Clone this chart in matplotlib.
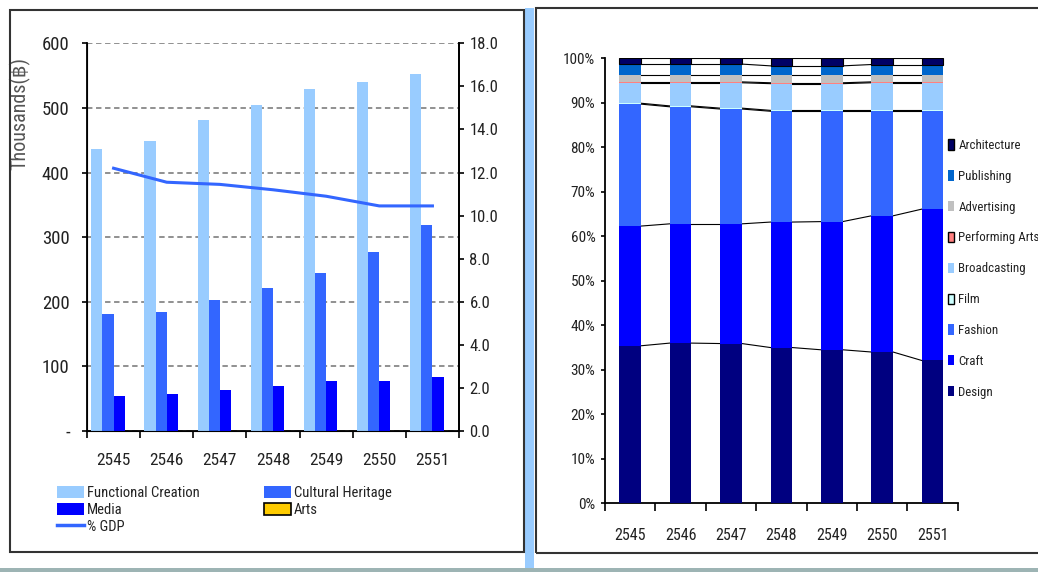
import matplotlib
matplotlib.use('Agg')
import matplotlib.pyplot as plt
from matplotlib.patches import Rectangle, Patch
from matplotlib.lines import Line2D
import numpy as np

'''
Creative economy: value by group (left) and sub-sector shares (right)
'''

years = ['2545', '2546', '2547', '2548', '2549', '2550', '2551']

# left chart, thousands of baht
functional_creation = [436, 449, 481, 504, 530, 540, 553]
cultural_heritage = [181, 184, 203, 222, 245, 277, 319]
media = [54, 58, 64, 70, 77, 77, 83]
arts = [0, 0, 0, 0, 0, 0, 0]
gdp_share = [12.2, 11.55, 11.45, 11.2, 10.9, 10.45, 10.45]

left_ticks = [0, 100, 200, 300, 400, 500, 600]
left_tick_labels = ['-', '100', '200', '300', '400', '500', '600']
right_ticks = [0, 2, 4, 6, 8, 10, 12, 14, 16, 18]

# right chart, % share (bottom to top)
sectors = ['Design', 'Craft', 'Fashion', 'Film', 'Broadcasting',
           'Performing Arts', 'Advertising', 'Publishing', 'Architecture']
design = [35.4, 36.0, 35.9, 35.0, 34.5, 34.0, 32.1]
craft = [26.9, 26.8, 26.9, 28.2, 28.8, 30.6, 34.0]
fashion = [27.4, 26.3, 25.8, 24.9, 24.8, 23.5, 22.0]
film = [0.2, 0.2, 0.2, 0.2, 0.2, 0.2, 0.2]
broadcasting = [4.6, 5.2, 5.7, 6.0, 6.0, 6.2, 6.2]
performing_arts = [0.2, 0.2, 0.2, 0.2, 0.2, 0.2, 0.2]
advertising = [1.6, 1.6, 1.6, 1.8, 1.8, 1.6, 1.6]
publishing = [2.4, 2.4, 2.4, 2.0, 2.0, 2.3, 2.3]
architecture = [1.3, 1.3, 1.3, 1.7, 1.7, 1.4, 1.4]

sector_colors = ['#000080', '#0000FF', '#3366FF', '#CCFFFF', '#99CCFF',
                 '#FF8080', '#C0C0C0', '#0066CC', '#000066']
sector_edges = [None, None, None, 'black', None, 'black', None, None, 'black']

# Arial Narrow look-alike
plt.rcParams['font.family'] = ['Roboto Condensed', 'DejaVu Sans']
TXT = '#222222'

W, H = 1038, 572
fig = plt.figure(figsize=(W / 100, H / 100), dpi=100)


def fx(px):
    return px / W


def fy(py):
    return 1 - py / H


# background decoration: panel frames, blue divider, bottom strip
fig.patches.append(Rectangle((fx(525), 0), fx(9), fy(8), transform=fig.transFigure,
                             facecolor='#99CCFF', edgecolor='none', zorder=0))
fig.patches.append(Rectangle((0, 0), 1, 4 / H, transform=fig.transFigure,
                             facecolor='#9DB4B4', edgecolor='none', zorder=0))
fig.patches.append(Rectangle((fx(10), fy(552)), fx(514), (552 - 10) / H,
                             transform=fig.transFigure, facecolor='none',
                             edgecolor='#333333', linewidth=1.5, zorder=1))
fig.patches.append(Rectangle((fx(536), fy(553)), fx(510), (553 - 8) / H,
                             transform=fig.transFigure, facecolor='none',
                             edgecolor='#333333', linewidth=1.5, zorder=1))

# ---------------- left chart ----------------
x = np.arange(len(years))
ax1 = fig.add_axes([fx(87), fy(431), fx(459 - 87), (431 - 43.3) / H])
bw = 0.21
ax1.bar(x - 1.5 * bw, functional_creation, bw, color='#99CCFF', zorder=3)
ax1.bar(x - 0.5 * bw, cultural_heritage, bw, color='#3366FF', zorder=3)
ax1.bar(x + 0.5 * bw, media, bw, color='#0000FF', zorder=3)
ax1.bar(x + 1.5 * bw, arts, bw, color='#FFCC00', edgecolor='black', linewidth=0, zorder=3)
ax1.set_xlim(-0.5, len(years) - 0.5)
ax1.set_ylim(0, 600)
ax1.set_yticks(left_ticks)
ax1.set_yticklabels(left_tick_labels)
ax1.yaxis.grid(True, linestyle=(0, (3, 2)), color='#888888', linewidth=1.3, zorder=0)
ax1.set_axisbelow(True)
ax1.set_xticks(np.arange(len(years) + 1) - 0.5)
ax1.set_xticklabels([])
ax1.set_xticks(x, minor=True)
ax1.set_xticklabels(years, minor=True)
ax1.tick_params(axis='x', which='major', length=5, width=1.2, direction='out')
ax1.tick_params(axis='x', which='minor', length=0, pad=16, labelsize=12.5, labelcolor=TXT)
ax1.tick_params(axis='y', length=3.5, width=1.2, pad=9, labelsize=13.5, labelcolor=TXT)
ax1.spines['top'].set_visible(False)
for s in ['left', 'bottom', 'right']:
    ax1.spines[s].set_linewidth(1.3)
ax1.set_ylabel('Thousands(฿)', fontsize=14.5, color='#555555')
ax1.yaxis.set_label_coords(-0.152, 0.818)

ax2 = ax1.twinx()
ax2.plot(x, gdp_share, color='#3366FF', linewidth=2.2, zorder=4)
ax2.set_ylim(0, 18)
ax2.set_yticks(right_ticks)
ax2.set_yticklabels([f'{t:.1f}' for t in right_ticks])
ax2.tick_params(axis='y', length=3.5, width=1.2, pad=4, labelsize=12, labelcolor=TXT)
ax2.spines['top'].set_visible(False)
ax2.spines['right'].set_linewidth(1.3)

left_handles = [
    Patch(facecolor='#99CCFF', edgecolor='none'),
    Patch(facecolor='#0000FF', edgecolor='none'),
    Line2D([0], [0], color='#3366FF', linewidth=2.5),
    Patch(facecolor='#3366FF', edgecolor='none'),
    Patch(facecolor='#FFCC00', edgecolor='black', linewidth=1.2),
]
left_labels = ['Functional Creation', 'Media', '% GDP', 'Cultural Heritage', 'Arts']
fig.legend(left_handles, left_labels, loc='upper left', ncol=2,
           bbox_to_anchor=(fx(57), fy(486)), frameon=False, borderpad=0,
           borderaxespad=0, fontsize=10.5, handlelength=1.85, handleheight=0.85,
           handletextpad=0.2, labelspacing=0.2, columnspacing=4.4,
           labelcolor=TXT)

# ---------------- right chart ----------------
ax3 = fig.add_axes([fx(605), fy(503.3), fx(957.7 - 605), (503.3 - 58.3) / H])
shares = [design, craft, fashion, film, broadcasting, performing_arts,
          advertising, publishing, architecture]
bw2 = 0.43
bottom = np.zeros(len(years))
tops = []
for vals, col in zip(shares, sector_colors):
    vals = np.array(vals)
    ax3.bar(x, vals, bw2, bottom=bottom, color=col,
            edgecolor='black' if col == '#000066' else 'none',
            linewidth=0.8, zorder=3)
    bottom = bottom + vals
    tops.append(bottom.copy())

# Excel-style series lines between columns
for t in tops:
    for i in range(len(years) - 1):
        ax3.plot([x[i] + bw2 / 2, x[i + 1] - bw2 / 2], [t[i], t[i + 1]],
                 color='black', linewidth=0.8, zorder=2)

ax3.set_xlim(-0.5, len(years) - 0.5)
ax3.set_ylim(0, 100)
ax3.set_yticks(np.arange(0, 101, 10))
ax3.set_yticklabels([f'{v}%' for v in range(0, 101, 10)])
ax3.set_xticks(np.arange(len(years) + 1) - 0.5)
ax3.set_xticklabels([])
ax3.set_xticks(x, minor=True)
ax3.set_xticklabels(years, minor=True)
ax3.tick_params(axis='x', which='major', length=6, width=1.2, direction='out')
ax3.tick_params(axis='x', which='minor', length=0, pad=18, labelsize=11.5, labelcolor=TXT)
ax3.tick_params(axis='y', length=3, width=1.2, pad=4, labelsize=11, labelcolor=TXT)
for s in ['top', 'right']:
    ax3.spines[s].set_visible(False)
for s in ['left', 'bottom']:
    ax3.spines[s].set_linewidth(1.3)

right_handles = [Patch(facecolor=c, edgecolor=e if e else 'none', linewidth=1.0)
                 for c, e in zip(sector_colors, sector_edges)][::-1]
fig.legend(right_handles, sectors[::-1], loc='upper left',
           bbox_to_anchor=(fx(948), fy(139)), frameon=False, borderpad=0,
           borderaxespad=0, fontsize=9.3, handlelength=0.5, handleheight=0.85,
           handletextpad=0.3, labelspacing=1.38, labelcolor=TXT)

fig.savefig('out.png', dpi=100)
